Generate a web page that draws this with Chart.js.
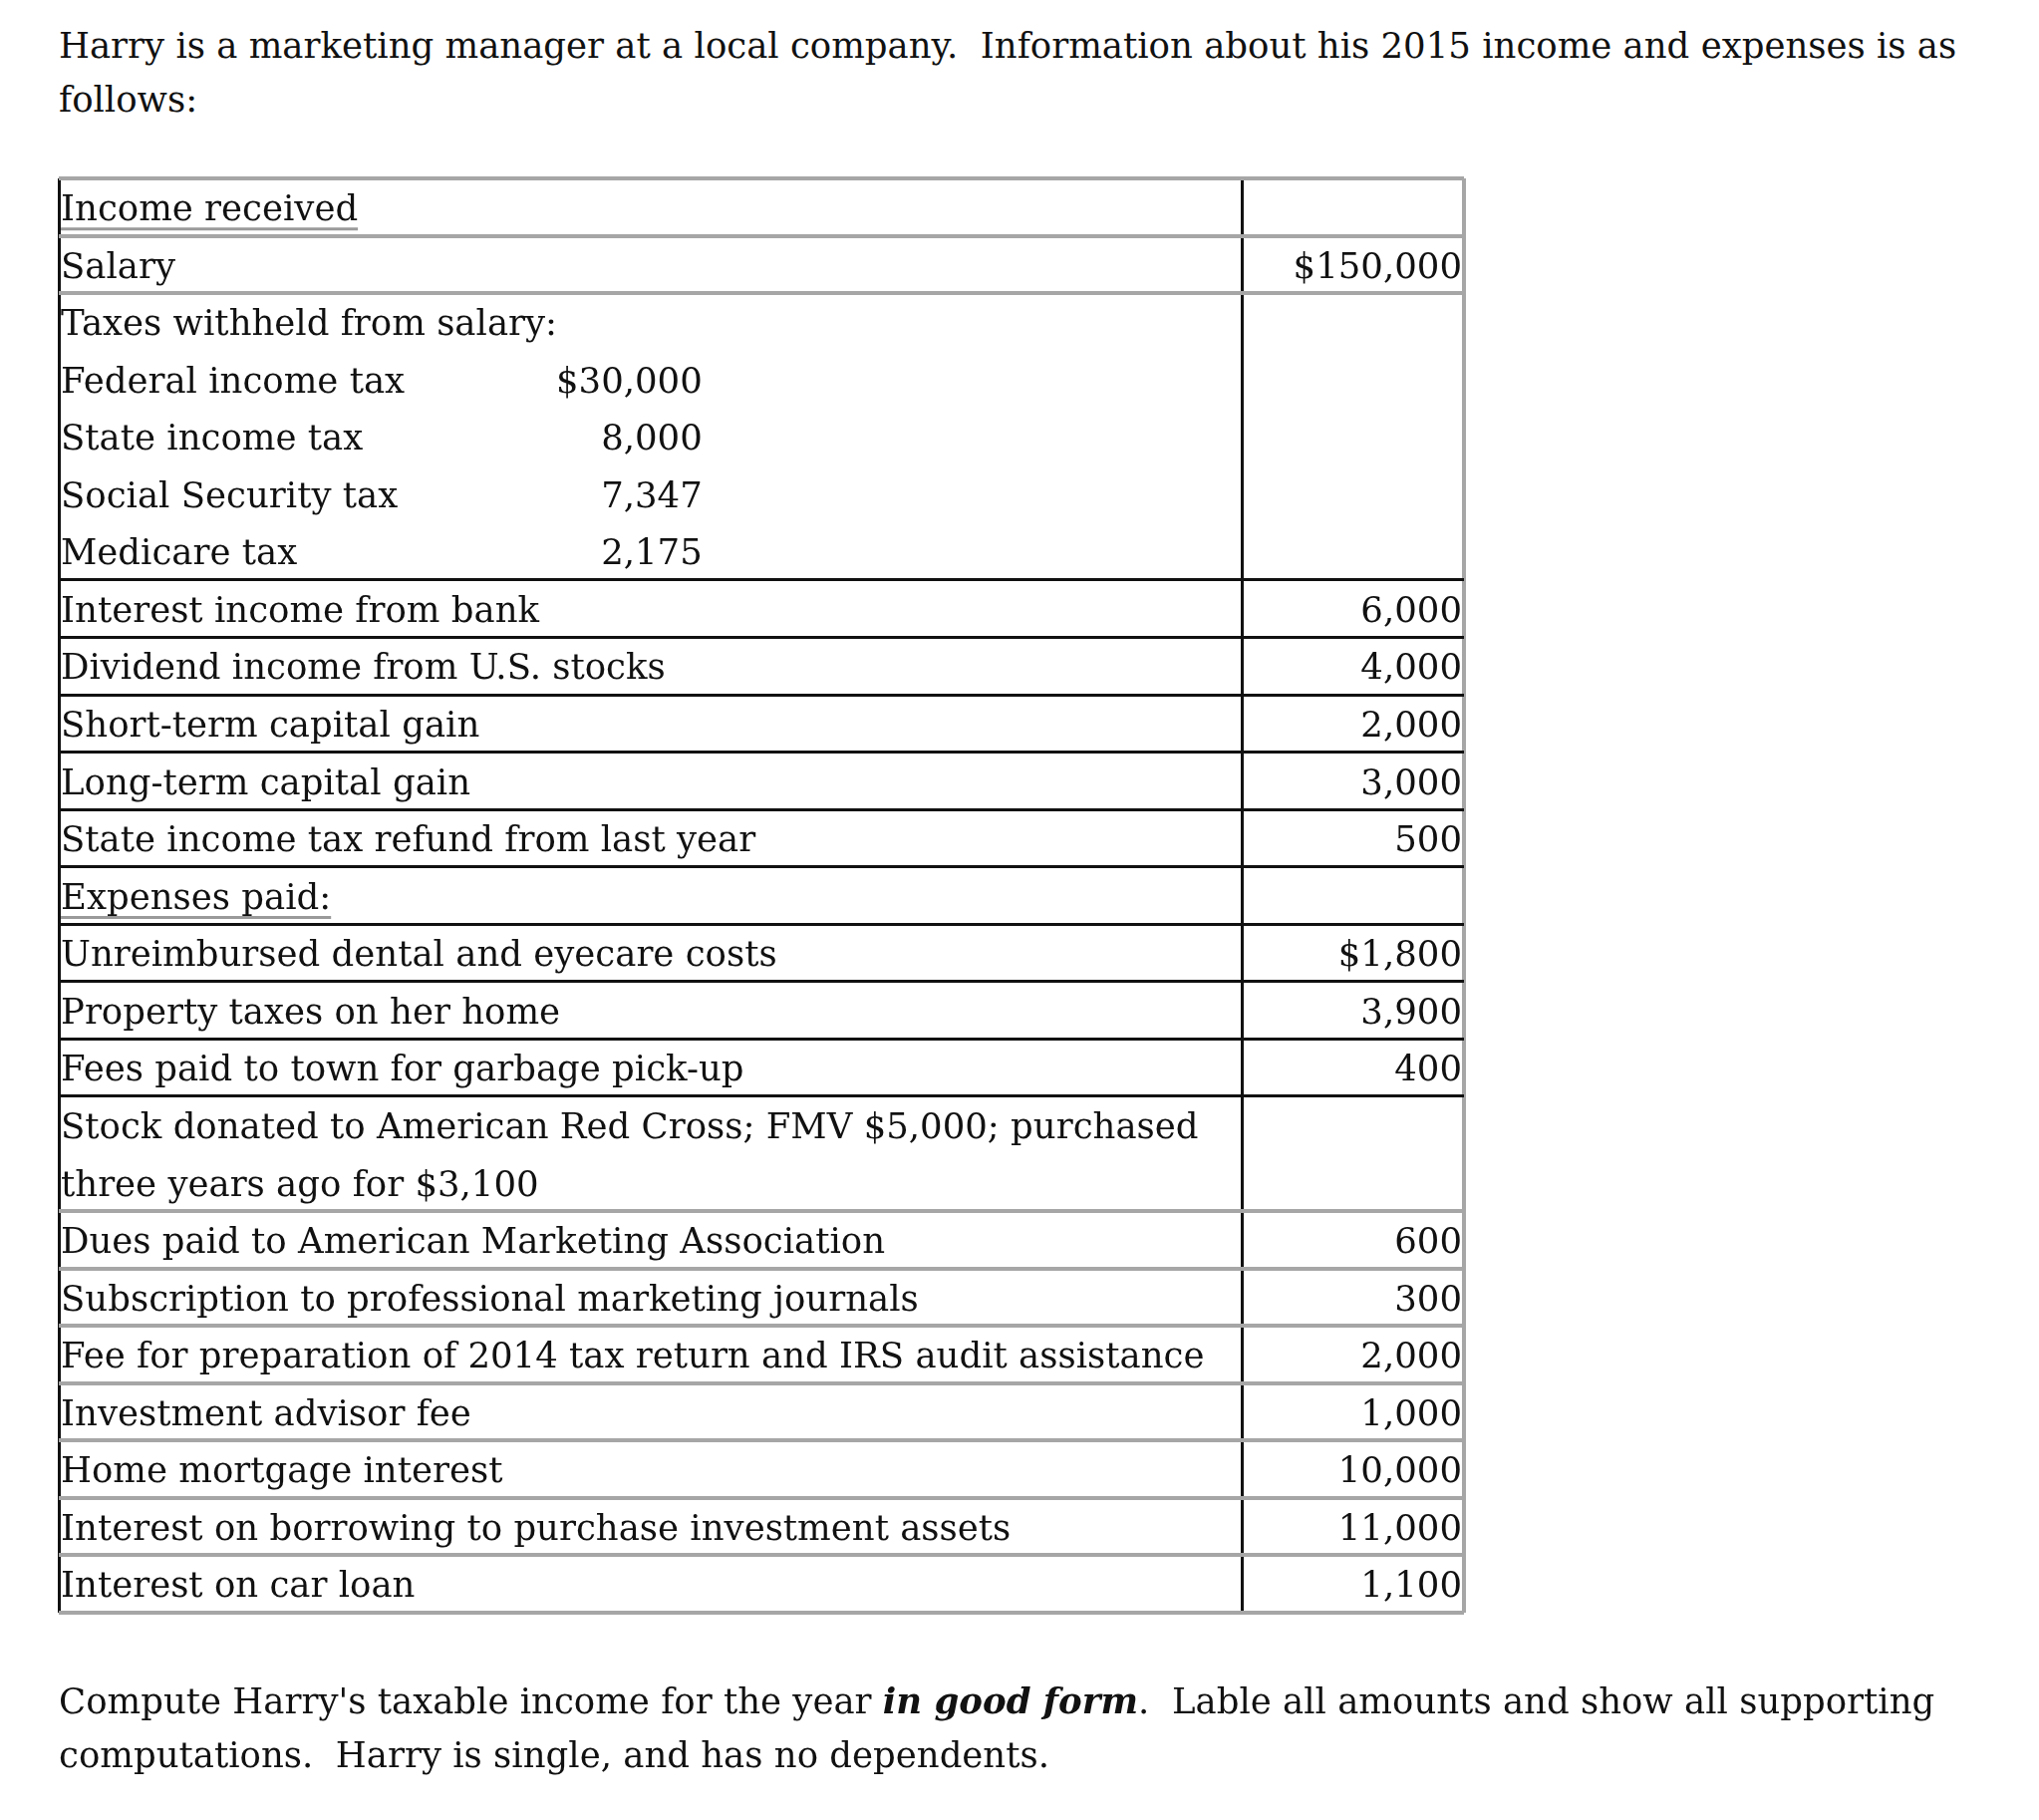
<!DOCTYPE html>
<html>
<head>
<meta charset="utf-8">
<script src="https://cdn.jsdelivr.net/npm/chart.js@4"></script>
<style>
  html, body { margin: 0; padding: 0; background: #fff; }
  body { width: 2046px; height: 1826px; position: relative; overflow: hidden; }
  #wrap { position: absolute; left: 0; top: 0; width: 2046px; height: 1826px; }
  .para {
    position: absolute; left: 59px; margin: 0;
    font-family: "DejaVu Serif", serif; font-size: 35.5px; line-height: 54px;
    color: #111; white-space: pre;
  }
  #intro { top: 19px; }
  #outro { top: 1680px; }
</style>
</head>
<body>
<p class="para" id="intro">Harry is a marketing manager at a local company.  Information about his 2015 income and expenses is as
follows:</p>
<div id="wrap"><canvas id="taxTable"></canvas></div>
<p class="para" id="outro">Compute Harry's taxable income for the year <b><i>in good form</i></b>.  Lable all amounts and show all supporting
computations.  Harry is single, and has no dependents.</p>
<script>
// one entry per text line of the table
const lineLabels = [
  "Income received",
  "Salary",
  "Taxes withheld from salary:",
  "Federal income tax",
  "State income tax",
  "Social Security tax",
  "Medicare tax",
  "Interest income from bank",
  "Dividend income from U.S. stocks",
  "Short-term capital gain",
  "Long-term capital gain",
  "State income tax refund from last year",
  "Expenses paid:",
  "Unreimbursed dental and eyecare costs",
  "Property taxes on her home",
  "Fees paid to town for garbage pick-up",
  "Stock donated to American Red Cross; FMV $5,000; purchased",
  "three years ago for $3,100",
  "Dues paid to American Marketing Association",
  "Subscription to professional marketing journals",
  "Fee for preparation of 2014 tax return and IRS audit assistance",
  "Investment advisor fee",
  "Home mortgage interest",
  "Interest on borrowing to purchase investment assets",
  "Interest on car loan"
];
const amounts = [null, 150000, null, null, null, null, null, 6000, 4000, 2000, 3000, 500,
  null, 1800, 3900, 400, null, null, 600, 300, 2000, 1000, 10000, 11000, 1100];
const withheld = [null, null, null, 30000, 8000, 7347, 2175, null, null, null, null, null,
  null, null, null, null, null, null, null, null, null, null, null, null, null];
const dollarLines = [1, 3, 13];
const headingLines = [0, 12];
// cell borders, counted in text lines
const rowBreaks = [0, 1, 2, 7, 8, 9, 10, 11, 12, 13, 14, 15, 16, 18, 19, 20, 21, 22, 23, 24, 25];
const greyBreaks = [0, 1, 2, 18, 19, 20, 21, 22, 23, 24, 25];

const DIVIDER = 0.842;
const SUB_RIGHT = 0.458;
const FONT = '35.5px "DejaVu Serif"';

function fmt(v, i) {
  const s = v.toLocaleString("en-US");
  return dollarLines.includes(i) ? "$" + s : s;
}

function points(list, x) {
  const out = [];
  list.forEach((v, i) => {
    if (v !== null) out.push({ x: x, y: i + 0.5, text: typeof v === "number" ? fmt(v, i) : v, line: i });
  });
  return out;
}

const textPlugin = {
  id: "cellText",
  afterDatasetsDraw(chart) {
    const ctx = chart.ctx;
    ctx.save();
    ctx.font = FONT;
    ctx.fillStyle = "#111";
    ctx.textBaseline = "middle";
    chart.data.datasets.forEach((ds, di) => {
      const meta = chart.getDatasetMeta(di);
      ctx.textAlign = ds.align;
      meta.data.forEach((pt, j) => {
        const item = ds.data[j];
        const x = pt.x + ds.shift;
        ctx.fillText(item.text, x, pt.y + 4);
        if (ds.align === "left" && headingLines.includes(item.line)) {
          const w = ctx.measureText(item.text).width;
          ctx.strokeStyle = "#9a9a9a";
          ctx.lineWidth = 3;
          ctx.beginPath();
          ctx.moveTo(x, pt.y + 22);
          ctx.lineTo(x + w, pt.y + 22);
          ctx.stroke();
        }
      });
    });
    ctx.restore();
  }
};

new Chart(document.getElementById("taxTable"), {
  type: "scatter",
  data: {
    datasets: [
      { data: points(lineLabels, 0), align: "left", shift: 2 },
      { data: points(withheld, SUB_RIGHT), align: "right", shift: 0 },
      { data: points(amounts, 1), align: "right", shift: -2 }
    ]
  },
  options: {
    responsive: true,
    maintainAspectRatio: false,
    animation: false,
    events: [],
    layout: { padding: { left: 59, top: 179, right: 577, bottom: 208 } },
    elements: { point: { radius: 0, hoverRadius: 0 } },
    plugins: { legend: { display: false }, tooltip: { enabled: false } },
    scales: {
      x: {
        type: "linear", min: 0, max: 1,
        afterBuildTicks: (axis) => { axis.ticks = [0, DIVIDER, 1].map((v) => ({ value: v })); },
        ticks: { display: false },
        border: { display: false },
        grid: {
          drawTicks: false,
          color: (c) => (c.tick && c.tick.value === 1 ? "#a6a6a6" : "#111"),
          lineWidth: (c) => (c.tick && c.tick.value === 1 ? 4 : 3)
        }
      },
      y: {
        type: "linear", min: 0, max: 25, reverse: true,
        afterBuildTicks: (axis) => { axis.ticks = rowBreaks.map((v) => ({ value: v })); },
        ticks: { display: false },
        border: { display: false },
        grid: {
          drawTicks: false,
          color: (c) => (c.tick && greyBreaks.includes(c.tick.value) ? "#a6a6a6" : "#111"),
          lineWidth: (c) => (c.tick && greyBreaks.includes(c.tick.value) ? 4 : 3)
        }
      }
    }
  },
  plugins: [textPlugin]
});
</script>
</body>
</html>
